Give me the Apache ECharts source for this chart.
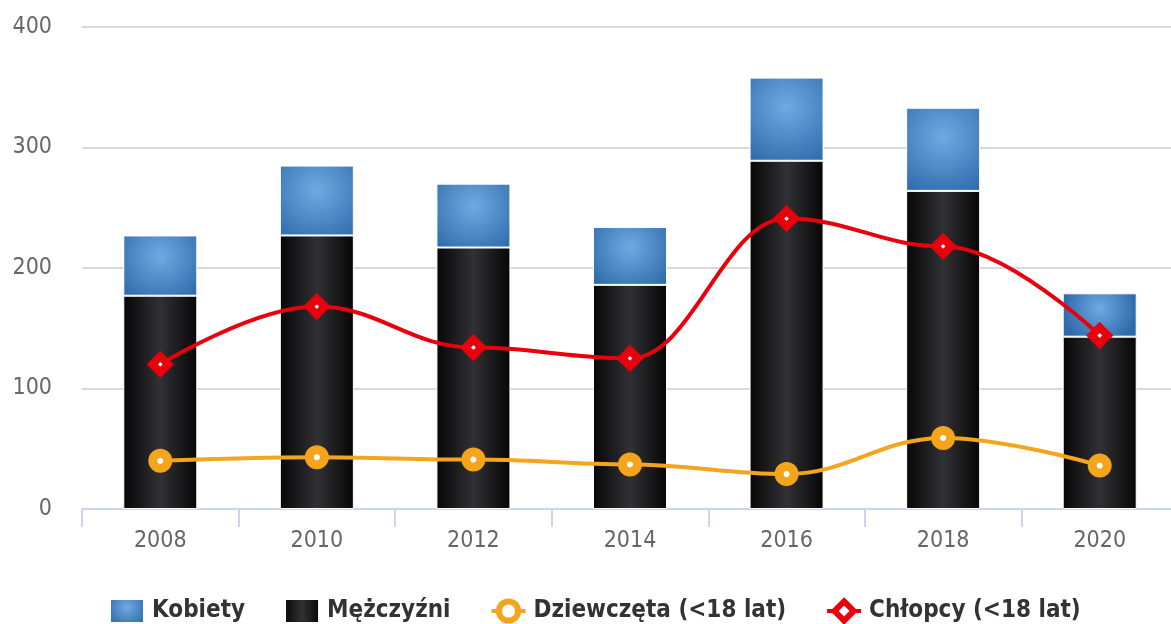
<!DOCTYPE html>
<html>
<head>
<meta charset="utf-8">
<script src="https://cdn.jsdelivr.net/npm/echarts@6/dist/echarts.min.js"></script>
<style>
  html, body { margin: 0; padding: 0; background: #fff; }
  #chart { width: 1171px; height: 624px; }
</style>
</head>
<body>
<div id="chart"></div>
<script>
// lata
const years = ['2008', '2010', '2012', '2014', '2016', '2018', '2020']
// wartości serii
const kobiety = [50, 58, 53, 48, 69, 69, 36]
const mezczyzni = [177, 227, 217, 186, 289, 264, 143]
const dziewczeta = [40, 43, 41, 37, 29, 59, 36]
const chlopcy = [120, 168, 134, 125, 241, 218, 144]
const yTicks = [0, 100, 200, 300, 400]

const font = "'DejaVu Sans Condensed', 'DejaVu Sans', sans-serif"
const orange = '#f5a51c'
const red = '#e8000c'

const chart = echarts.init(document.getElementById('chart'))

const blueFill = new echarts.graphic.RadialGradient(0.5, 0.35, 0.85, [
  { offset: 0, color: '#70aae2' },
  { offset: 1, color: '#2f6aab' }
])
const blackFill = new echarts.graphic.LinearGradient(0, 0, 1, 0, [
  { offset: 0, color: '#060606' },
  { offset: 0.5, color: '#313135' },
  { offset: 1, color: '#060606' }
])

const option = {
  animation: false,
  textStyle: { fontFamily: font },
  grid: {
    left: 82,
    right: -7,
    top: 27,
    bottom: 115,
    outerBoundsMode: 'none'
  },
  legend: {
    top: 593,
    left: 104,
    itemGap: 39,
    itemWidth: 34,
    itemHeight: 24,
    data: [
      { name: 'Kobiety', icon: 'rect' },
      { name: 'Mężczyźni', icon: 'rect' },
      {
        name: 'Dziewczęta (<18 lat)',
        itemStyle: { color: '#fff', borderColor: orange, borderWidth: 6 },
        lineStyle: { width: 4 }
      },
      {
        name: 'Chłopcy (<18 lat)',
        itemStyle: { color: '#fff', borderColor: red, borderWidth: 6 },
        lineStyle: { width: 4 }
      }
    ],
    textStyle: {
      fontFamily: font,
      fontSize: 24,
      fontWeight: 'bold',
      color: '#333',
      padding: [0, 0, 0, 3]
    }
  },
  xAxis: {
    type: 'category',
    data: years,
    boundaryGap: true,
    axisLine: { lineStyle: { color: '#ccd6eb', width: 2 } },
    axisTick: { show: true, length: 18, lineStyle: { color: '#ccd6eb', width: 2 } },
    axisLabel: { color: '#666', fontSize: 23, margin: 21, fontFamily: font }
  },
  yAxis: {
    type: 'value',
    min: yTicks[0],
    max: yTicks[yTicks.length - 1],
    interval: 100,
    axisLine: { show: false },
    axisTick: { show: false },
    axisLabel: { color: '#666', fontSize: 23, margin: 30, fontFamily: font },
    splitLine: { lineStyle: { color: '#d9d9d9', width: 2 } }
  },
  series: [
    {
      name: 'Mężczyźni',
      type: 'bar',
      stack: 'razem',
      barWidth: 74,
      data: mezczyzni,
      itemStyle: { color: blackFill, borderColor: '#fff', borderWidth: 1 }
    },
    {
      name: 'Kobiety',
      type: 'bar',
      stack: 'razem',
      barWidth: 74,
      data: kobiety,
      itemStyle: { color: blueFill, borderColor: '#fff', borderWidth: 1 }
    },
    {
      name: 'Dziewczęta (<18 lat)',
      type: 'line',
      smooth: 0.4,
      smoothMonotone: 'x',
      z: 5,
      data: dziewczeta,
      symbol: 'circle',
      symbolSize: 15,
      lineStyle: { color: orange, width: 4 },
      itemStyle: { color: '#fff', borderColor: orange, borderWidth: 9 }
    },
    {
      name: 'Chłopcy (<18 lat)',
      type: 'line',
      smooth: 0.4,
      smoothMonotone: 'x',
      z: 6,
      data: chlopcy,
      symbol: 'diamond',
      symbolSize: 16,
      lineStyle: { color: red, width: 4 },
      itemStyle: { color: '#fff', borderColor: red, borderWidth: 8 }
    }
  ]
}

chart.setOption(option)
</script>
</body>
</html>
